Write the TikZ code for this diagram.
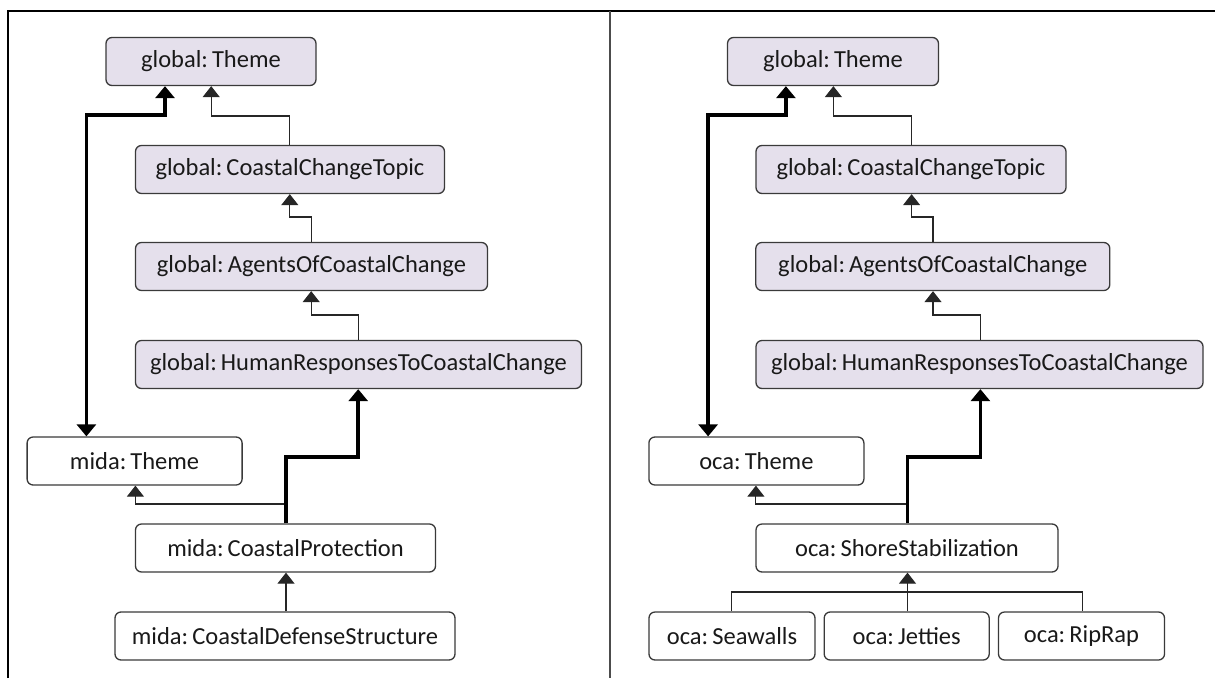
\documentclass[tikz,border=0pt]{standalone}
\usepackage{fontspec}
\setmainfont{Carlito}
\usetikzlibrary{arrows.meta}
\definecolor{gfill}{HTML}{E5E0EC}
\definecolor{bordc}{HTML}{3A3A3A}
\begin{document}
\begin{tikzpicture}[x=1pt,y=-1pt,
  box/.style={draw=bordc,line width=1.3pt,rounded corners=6pt,minimum height=48pt,inner sep=0pt,
    font=\fontsize{24.5}{29}\selectfont,text=black!90},
  gbox/.style={box,fill=gfill},
  wbox/.style={box,fill=white},
  thinarr/.style={draw=black!85,line width=1.1pt,-{Triangle[width=17pt,length=11pt]}},
  thinline/.style={draw=black!85,line width=1.1pt},
  thickarr/.style={draw=black,line width=3.5pt,-{Triangle[width=19pt,length=12pt]}},
  thickboth/.style={draw=black,line width=3.5pt,{Triangle[width=19pt,length=12pt]}-{Triangle[width=19pt,length=12pt]}}]
\useasboundingbox (0,0) rectangle (1215,678);
% frame
\draw[line width=2pt,black] (8,678) -- (8,11) -- (1215,11);
\draw[line width=2pt,black!70] (609.7,11) -- (609.7,678);

% ---------- left panel ----------
\node[gbox,minimum width=210pt] (gt) at (211,61.5) {global:\,Theme};
\node[gbox,minimum width=309pt] (cct) at (290,169.5) {global:\,CoastalChangeTopic};
\node[gbox,minimum width=352pt] (ag) at (311.5,266.5) {global:\,AgentsOfCoastalChange};
\node[gbox,minimum width=446pt] (hr) at (358.5,364.5) {global:\,HumanResponsesToCoastalChange};
\node[wbox,minimum width=215pt] (mt) at (134.6,461) {mida:\,Theme};
\node[wbox,minimum width=300pt] (cp) at (285.5,548) {mida:\,CoastalProtection};
\node[wbox,minimum width=340pt] (cds) at (285,636) {mida:\,CoastalDefenseStructure};

\coordinate (a1) at (289.8,116); \coordinate (a2) at (211.2,116);
\coordinate (b1) at (86.4,115);  \coordinate (b2) at (165,115);
\coordinate (c1) at (311.2,217); \coordinate (c2) at (289.8,217);
\coordinate (d1) at (358.2,315); \coordinate (d2) at (311.2,315);
\coordinate (e1) at (286,457);   \coordinate (e2) at (358.2,457);
\coordinate (f1) at (286,504);   \coordinate (f2) at (135.4,504);

\draw[thinarr] (cct.north -| a1) -- (a1) -- (a2) -- (gt.south -| a2);
\draw[thinarr] (ag.north -| c1) -- (c1) -- (c2) -- (cct.south -| c2);
\draw[thinarr] (hr.north -| d1) -- (d1) -- (d2) -- (ag.south -| d2);
\draw[thinarr] (f1) -- (f2) -- (mt.south -| f2);
\draw[thinarr] (cds.north -| f1) -- (cp.south -| f1);
\draw[thickboth] (mt.north -| b1) -- (b1) -- (b2) -- (gt.south -| b2);
\draw[thickarr] (cp.north -| e1) -- (e1) -- (e2) -- (hr.south -| e2);

% ---------- right panel ----------
\node[gbox,minimum width=211pt] (gt2) at (833,61.5) {global:\,Theme};
\node[gbox,minimum width=310pt] (cct2) at (911,169.5) {global:\,CoastalChangeTopic};
\node[gbox,minimum width=354pt] (ag2) at (932.8,266.5) {global:\,AgentsOfCoastalChange};
\node[gbox,minimum width=447pt] (hr2) at (979.5,364.5) {global:\,HumanResponsesToCoastalChange};
\node[wbox,minimum width=215pt] (ot) at (756.4,461) {oca:\,Theme};
\node[wbox,minimum width=302pt] (ss) at (907,548) {oca:\,ShoreStabilization};
\node[wbox,minimum width=166pt] (sw) at (732,636) {oca:\,Seawalls};
\node[wbox,minimum width=165pt] (jt) at (906.7,636) {oca:\,Jetties};
\node[wbox,minimum width=166pt] (rr) at (1081.5,636) {oca:\,RipRap};

\coordinate (g1) at (911.6,116); \coordinate (g2) at (833.4,116);
\coordinate (h1) at (708.1,115); \coordinate (h2) at (785.9,115);
\coordinate (i1) at (933,217);   \coordinate (i2) at (911.6,217);
\coordinate (j1) at (980.4,315); \coordinate (j2) at (933,315);
\coordinate (k1) at (907.5,457); \coordinate (k2) at (980.4,457);
\coordinate (m1) at (907.5,504); \coordinate (m2) at (755.9,504);
\coordinate (n1) at (731.4,592); \coordinate (n2) at (1082.7,592);

\draw[thinarr] (cct2.north -| g1) -- (g1) -- (g2) -- (gt2.south -| g2);
\draw[thinarr] (ag2.north -| i1) -- (i1) -- (i2) -- (cct2.south -| i2);
\draw[thinarr] (hr2.north -| j1) -- (j1) -- (j2) -- (ag2.south -| j2);
\draw[thinarr] (m1) -- (m2) -- (ot.south -| m2);
\draw[thinline] (sw.north -| n1) -- (n1) -- (n2) -- (rr.north -| n2);
\draw[thinarr] (jt.north -| m1) -- (ss.south -| m1);
\draw[thickboth] (ot.north -| h1) -- (h1) -- (h2) -- (gt2.south -| h2);
\draw[thickarr] (ss.north -| k1) -- (k1) -- (k2) -- (hr2.south -| k2);
\end{tikzpicture}
\end{document}
